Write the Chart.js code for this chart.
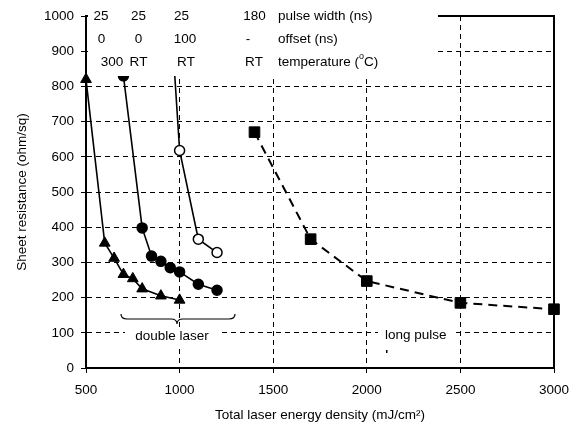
<!DOCTYPE html>
<html><head><meta charset="utf-8">
<script src="https://cdn.jsdelivr.net/npm/chart.js@4/dist/chart.umd.min.js"></script>
<style>html,body{margin:0;padding:0;background:#fff}#wrap{width:581px;height:436px}</style>
</head><body><div id="wrap"><canvas id="c" width="581" height="436"></canvas></div>
<script>
// Data
const energy300C = [500, 600, 650, 700, 750, 800, 900, 1000];
const res300C    = [820, 355, 312, 266, 254, 225, 205, 193];
const energyRT0  = [700, 800, 850, 900, 950, 1000, 1100, 1200];
const resRT0     = [830, 398, 318, 303, 285, 273, 238, 221];
const energyRT100 = [950, 1000, 1100, 1200];
const resRT100    = [1030, 618, 366, 328];
const energyLong = [1400, 1700, 2000, 2500, 3000];
const resLong    = [670, 366, 247, 185, 167];
const xTicks = [500, 1000, 1500, 2000, 2500, 3000];
const yTicks = [0, 100, 200, 300, 400, 500, 600, 700, 800, 900, 1000];
const pulseWidths = ['25', '25', '25', '180'];
const offsets     = ['0', '0', '100', '-'];
const temps       = ['300', 'RT', 'RT', 'RT'];
const rowLabels   = ['pulse width (ns)', 'offset (ns)', 'temperature ('];
const xTitle = 'Total laser energy density (mJ/cm\u00B2)';
const yTitle = 'Sheet resistance (ohm/sq)';

const FONT = '"Liberation Sans", Arial, sans-serif';
const FS = 13.5;
const pts = (xs, ys) => xs.map((x, i) => ({x: x, y: ys[i]}));

const overlay = {
  id: 'overlay',
  afterDatasetsDraw(chart) {
    const ctx = chart.ctx, a = chart.chartArea;
    ctx.save();
    // top and right frame
    ctx.strokeStyle = '#000'; ctx.lineWidth = 2;
    ctx.beginPath(); ctx.moveTo(a.left, a.top); ctx.lineTo(a.right, a.top); ctx.lineTo(a.right, a.bottom); ctx.stroke();
    // header box
    ctx.fillStyle = '#fff';
    ctx.fillRect(a.left + 2, 0, 438 - a.left - 2, 76);
    // boxes behind annotations
    ctx.fillRect(125, 327, 96, 18);
    ctx.fillRect(378, 327, 74, 18);
    ctx.fillStyle = '#000';
    ctx.font = FS + 'px ' + FONT;
    ctx.textBaseline = 'middle';
    ctx.textAlign = 'center';
    const rowsY = [16, 39, 62];
    const cols = [[101, 138.5, 181.5, 254.5], [101.5, 138.5, 185, 248], [112, 138.5, 186, 254]];
    [pulseWidths, offsets, temps].forEach((row, r) => {
      row.forEach((t, c) => ctx.fillText(t, cols[r][c], rowsY[r]));
    });
    ctx.textAlign = 'left';
    rowLabels.forEach((t, r) => ctx.fillText(t, 278, rowsY[r]));
    let w = ctx.measureText(rowLabels[2]).width;
    ctx.font = '9px ' + FONT;
    ctx.fillText('o', 278 + w, rowsY[2] - 5);
    const w2 = ctx.measureText('o').width;
    ctx.font = FS + 'px ' + FONT;
    ctx.fillText('C)', 278 + w + w2, rowsY[2]);
    // annotations
    ctx.textAlign = 'center';
    ctx.fillText('double laser', 172, 336);
    ctx.textAlign = 'left';
    ctx.fillText('long pulse', 385, 335);
    ctx.fillRect(386, 350, 1.5, 3);
    // brace
    ctx.lineWidth = 1.2;
    ctx.beginPath();
    ctx.moveTo(121, 314);
    ctx.quadraticCurveTo(121, 319, 127, 319);
    ctx.lineTo(171, 319);
    ctx.quadraticCurveTo(177, 319, 177, 324);
    ctx.quadraticCurveTo(177, 319, 183, 319);
    ctx.lineTo(229, 319);
    ctx.quadraticCurveTo(235, 319, 235, 314);
    ctx.stroke();
    ctx.restore();
  }
};

new Chart(document.getElementById('c'), {
  type: 'scatter',
  data: {
    datasets: [
      {data: pts(energy300C, res300C), showLine: true, borderColor: '#000', borderWidth: 1.6, clip: false,
       pointStyle: 'triangle', pointRadius: 6.2, pointBackgroundColor: '#000', pointBorderColor: '#000', pointBorderWidth: 1},
      {data: pts(energyRT0, resRT0), showLine: true, borderColor: '#000', borderWidth: 1.6, clip: false,
       pointStyle: 'circle', pointRadius: 5, pointBackgroundColor: '#000', pointBorderColor: '#000', pointBorderWidth: 1.5},
      {data: pts(energyRT100, resRT100), showLine: true, borderColor: '#000', borderWidth: 1.6, clip: false,
       pointStyle: 'circle', pointRadius: 5, pointBackgroundColor: '#fff', pointBorderColor: '#000', pointBorderWidth: 1.5},
      {data: pts(energyLong, resLong), showLine: true, borderColor: '#000', borderWidth: 2, borderDash: [9, 6], clip: false,
       pointStyle: 'rect', pointRadius: 7.5, pointBackgroundColor: '#000', pointBorderColor: '#000', pointBorderWidth: 1}
    ]
  },
  options: {
    responsive: false, animation: false, devicePixelRatio: 1, events: [],
    layout: {padding: {left: 0, top: 16, right: 27, bottom: 0}},
    plugins: {legend: {display: false}, tooltip: {enabled: false}},
    scales: {
      x: {
        type: 'linear', min: 500, max: 3000,
        afterBuildTicks: s => { s.ticks = xTicks.map(v => ({value: v})); },
        afterFit: s => { s.height = 68; },
        grid: {color: '#000', lineWidth: 1, tickLength: 5, tickColor: '#000'},
        border: {display: true, color: '#000', width: 2, dash: [5, 4]},
        ticks: {color: '#000', font: {family: FONT, size: FS}, padding: 9, maxRotation: 0, callback: v => String(v)},
        title: {display: true, text: xTitle, color: '#000', font: {family: FONT, size: FS}, padding: {top: 0, bottom: 13}}
      },
      y: {
        type: 'linear', min: 0, max: 1000,
        afterBuildTicks: s => { s.ticks = yTicks.map(v => ({value: v})); },
        afterFit: s => { s.width = 86; },
        grid: {color: '#000', lineWidth: 1, tickLength: 5, tickColor: '#000'},
        border: {display: true, color: '#000', width: 2, dash: [5, 4]},
        ticks: {color: '#000', font: {family: FONT, size: FS}, padding: 7, callback: v => String(v)},
        title: {display: true, text: yTitle, color: '#000', font: {family: FONT, size: FS}, padding: {top: 14, bottom: 0}}
      }
    }
  },
  plugins: [overlay]
});
</script></body></html>
